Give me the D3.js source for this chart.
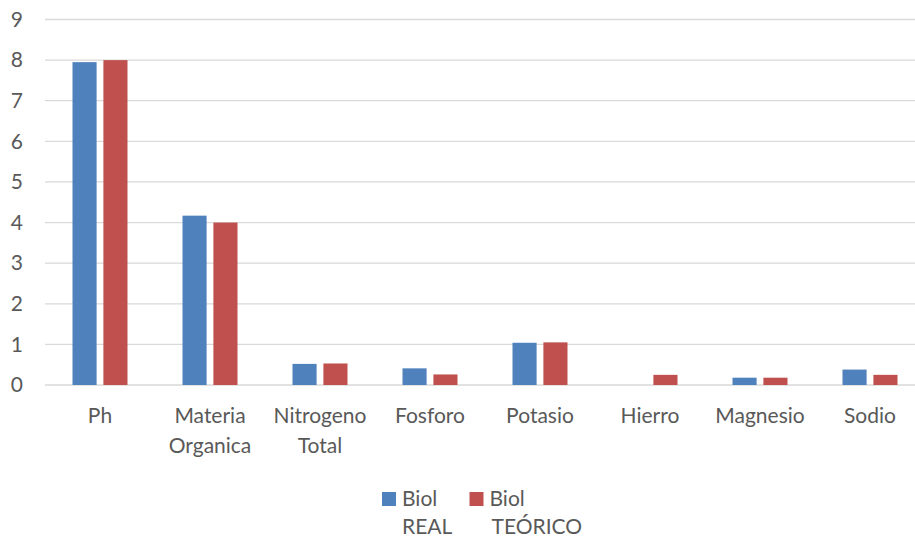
<!DOCTYPE html>
<html><head><meta charset="utf-8">
<script src="https://cdn.jsdelivr.net/npm/d3@7"></script>
<style>body{margin:0;background:#fff;} text{font-family:Lato,"Open Sans",sans-serif;fill:#595959;}</style>
</head><body>
<svg id="chart" width="915" height="540"></svg>
<script>
const categories = [["Ph"],["Materia","Organica"],["Nitrogeno","Total"],["Fosforo"],["Potasio"],["Hierro"],["Magnesio"],["Sodio"]];
const seriesNames = [["Biol","REAL"],["Biol","TEÓRICO"]];
const realValues = [7.95, 4.17, 0.52, 0.41, 1.04, 0, 0.18, 0.38];
const teoricoValues = [8.0, 4.0, 0.53, 0.26, 1.05, 0.25, 0.18, 0.25];
const yTicks = [0,1,2,3,4,5,6,7,8,9];
const colors = ["#4f81bd","#c0504d"];

const svg = d3.select("#chart");
const catKeys = categories.map(c => c.join(" "));
const x0 = d3.scaleBand().domain(catKeys).range([45, 925]).padding(0);
const x1 = d3.scaleBand().domain([0,1]).range([27.5, 82.5]).paddingInner(0.22);
const y = d3.scaleLinear().domain([0, 9]).range([385, 19.5]);

// gridlines
svg.append("g").selectAll("line").data(yTicks).join("line")
  .attr("x1", 45).attr("x2", 915)
  .attr("y1", d => y(d)).attr("y2", d => y(d))
  .attr("stroke", "#d9d9d9").attr("stroke-width", 1.3);

// y labels
const yAxis = d3.axisLeft(y).tickValues(yTicks).tickSize(0).tickPadding(0);
const gy = svg.append("g").attr("transform", "translate(23,0)").call(yAxis);
gy.select(".domain").remove();
gy.selectAll("text").attr("font-size", 21).style("font-family", "Lato").attr("fill", "#595959");

// bars
const seriesData = [realValues, teoricoValues];
seriesData.forEach((vals, si) => {
  svg.append("g").selectAll("rect").data(vals).join("rect")
    .attr("x", (d, i) => x0(catKeys[i]) + x1(si))
    .attr("width", x1.bandwidth())
    .attr("y", d => y(d))
    .attr("height", d => y(0) - y(d))
    .attr("fill", colors[si]);
});

// x labels
const gx = svg.append("g");
categories.forEach((lines, i) => {
  const t = gx.append("text")
    .attr("x", x0(catKeys[i]) + x0.bandwidth() / 2)
    .attr("y", 423)
    .attr("text-anchor", "middle")
    .attr("font-size", 21);
  lines.forEach((ln, j) => {
    t.append("tspan").attr("x", x0(catKeys[i]) + x0.bandwidth() / 2)
      .attr("dy", j === 0 ? 0 : 30).text(ln);
  });
});

// legend
const legX = [382, 469.5];
seriesNames.forEach((nm, i) => {
  svg.append("rect").attr("x", legX[i]).attr("y", 492).attr("width", 14).attr("height", 14).attr("fill", colors[i]);
  const t = svg.append("text").attr("x", legX[i] + 20).attr("y", 505.5).attr("font-size", 21);
  t.append("tspan").attr("x", legX[i] + 20).text(nm[0]);
  t.append("tspan").attr("x", legX[i] + 20 + (i === 1 ? 2 : 0)).attr("dy", 28.7).text(nm[1]);
});
</script>
</body></html>
